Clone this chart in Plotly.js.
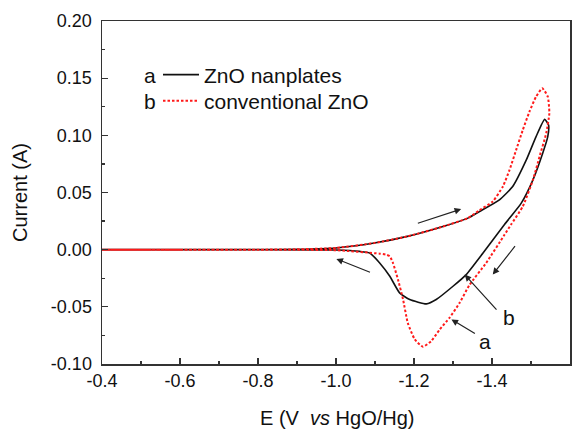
<!DOCTYPE html>
<html>
<head>
<meta charset="utf-8">
<script src="https://cdn.plot.ly/plotly-3.0.1.min.js"></script>
<style>
html,body{margin:0;padding:0;background:#fff;}
#chart{width:585px;height:432px;}
</style>
</head>
<body>
<div id="chart"></div>
<script>
// Sample a: ZnO nanplates (black solid)
const aE = [-0.40,-0.60,-0.80,-0.90,-1.00,-1.098,-1.183,-1.270,-1.338,-1.368,-1.419,-1.453,-1.488,-1.513,-1.535,-1.545,-1.543,
            -1.530,-1.505,-1.475,-1.432,-1.377,-1.334,-1.300,-1.257,-1.232,-1.189,-1.163,-1.138,-1.112,-1.086,-1.061,-1.00,-0.80,-0.40];
const aI = [0.000,0.000,0.000,0.0003,0.0015,0.0058,0.0116,0.0198,0.0276,0.0334,0.0436,0.0552,0.0785,0.0989,0.114,0.109,0.0989,
            0.0844,0.0611,0.0407,0.022,-0.003,-0.0218,-0.032,-0.0436,-0.0474,-0.0436,-0.0378,-0.0233,-0.0116,-0.0029,-0.0015,-0.0003,0.000,0.000];
// Sample b: conventional ZnO (red dotted)
const bE = [-0.40,-0.60,-0.80,-0.90,-1.00,-1.098,-1.183,-1.270,-1.338,-1.368,-1.402,-1.428,-1.445,-1.462,-1.479,-1.496,-1.513,-1.529,-1.543,-1.547,
            -1.539,-1.522,-1.505,-1.479,-1.449,-1.432,-1.385,-1.342,-1.317,-1.291,-1.266,-1.244,-1.223,-1.202,-1.184,-1.172,-1.159,-1.146,-1.138,-1.129,-1.112,-1.00,-0.80,-0.40];
const bI = [0.000,0.000,0.000,0.0003,0.0015,0.0058,0.0116,0.0198,0.0276,0.0345,0.0422,0.0553,0.0698,0.0873,0.1047,0.1207,0.1338,0.1411,0.1338,0.1193,
            0.1018,0.0815,0.0611,0.0378,0.022,0.013,-0.0116,-0.031,-0.0465,-0.0596,-0.0698,-0.080,-0.0849,-0.0785,-0.064,-0.0436,-0.0262,-0.0116,-0.0058,-0.0044,-0.0035,-0.0005,0.000,0.000];

const xTickVals = [-0.4,-0.6,-0.8,-1.0,-1.2,-1.4,-1.6];
const xTickText = ["-0.4","-0.6","-0.8","-1.0","-1.2","-1.4","-1.6"];
const yTickVals = [-0.10,-0.05,0.00,0.05,0.10,0.15,0.20];
const yTickText = ["-0.10","-0.05","0.00","0.05","0.10","0.15","0.20"];

const seriesNames = ["ZnO nanplates","conventional ZnO"];
const seriesLetters = ["a","b"];
const xTitle = 'E (V  <i>vs</i> HgO/Hg)';
const yTitle = 'Current (A)';

const FONT = "Liberation Sans, Arial, sans-serif";

const traces = [
  {x:aE, y:aI, name:seriesNames[0], mode:'lines', type:'scatter', legend:'legend',
   line:{color:'#111111', width:1.6, shape:'spline', smoothing:0.5}},
  {x:bE, y:bI, name:seriesNames[1], mode:'lines', type:'scatter', legend:'legend2',
   line:{color:'#ff1a1a', width:2, dash:'2.5px,2px', shape:'spline', smoothing:0.5}}
];

const arrowStyle = {showarrow:true, arrowhead:2, arrowsize:1.1, arrowwidth:1.2, arrowcolor:'#222',
  axref:'x', ayref:'y', text:'', xref:'x', yref:'y'};

const PW = 468, PH = 343;
const annotations = [
  Object.assign({}, arrowStyle, {x:-1.321, y:0.0355, ax:-1.206, ay:0.0227}),
  Object.assign({}, arrowStyle, {x:-1.001, y:-0.0081, ax:-1.091, ay:-0.0203}),
  Object.assign({}, arrowStyle, {x:-1.402, y:-0.0218, ax:-1.462, ay:0.0044}),
  Object.assign({}, arrowStyle, {x:-1.330, y:-0.0218, ax:-1.415, ay:-0.0538}),
  Object.assign({}, arrowStyle, {x:-1.296, y:-0.061, ax:-1.360, ay:-0.0742}),
  {x:-1.443, y:-0.0595, xref:'x', yref:'y', text:'b', showarrow:false, font:{family:FONT, size:21, color:'#111'}},
  {x:-1.383, y:-0.0800, xref:'x', yref:'y', text:'a', showarrow:false, font:{family:FONT, size:21, color:'#111'}},
  {x:(150-102)/PW, y:(364-75)/PH, xref:'paper', yref:'paper', xanchor:'center', yanchor:'middle',
   text:seriesLetters[0], showarrow:false, font:{family:FONT, size:21, color:'#111'}},
  {x:(150-102)/PW, y:(364-101)/PH, xref:'paper', yref:'paper', xanchor:'center', yanchor:'middle',
   text:seriesLetters[1], showarrow:false, font:{family:FONT, size:21, color:'#111'}},
  {x:(337-102)/PW, y:(364-431)/PH, xref:'paper', yref:'paper', xanchor:'center', yanchor:'bottom',
   text:xTitle, showarrow:false, font:{family:FONT, size:20, color:'#111'}}
];

const legendBase = {xanchor:'left', yanchor:'middle', bgcolor:'rgba(0,0,0,0)', borderwidth:0,
  font:{family:FONT, size:21, color:'#111'}, itemwidth:36};

const layout = {
  width:585, height:432,
  margin:{l:102, r:15, t:21, b:68},
  paper_bgcolor:'#fff', plot_bgcolor:'#fff',
  font:{family:FONT, color:'#111'},
  showlegend:true,
  legend:Object.assign({}, legendBase, {x:(158-102)/PW, y:(364-75)/PH}),
  legend2:Object.assign({}, legendBase, {x:(158-102)/PW, y:(364-101)/PH}),
  xaxis:{range:[-0.4,-1.6], tickmode:'array', tickvals:xTickVals, ticktext:xTickText,
         ticks:'inside', ticklen:6, tickwidth:1.3, tickcolor:'#333',
         minor:{dtick:0.1, tick0:-0.4, ticks:'inside', ticklen:3, tickwidth:1.3, tickcolor:'#333'},
         showgrid:false, zeroline:false, showline:true, mirror:true, linecolor:'#333', linewidth:1.5,
         tickfont:{family:FONT, size:18, color:'#111'}, ticklabelstandoff:0},
  yaxis:{range:[-0.10,0.20], tickmode:'array', tickvals:yTickVals, ticktext:yTickText,
         ticks:'inside', ticklen:6, tickwidth:1.3, tickcolor:'#333',
         minor:{dtick:0.025, tick0:0, ticks:'inside', ticklen:3, tickwidth:1.3, tickcolor:'#333'},
         showgrid:false, zeroline:false, showline:true, mirror:true, linecolor:'#333', linewidth:1.5,
         tickfont:{family:FONT, size:18, color:'#111'}, ticklabelstandoff:5,
         title:{text:yTitle, font:{family:FONT, size:20, color:'#111'}, standoff:18}},
  annotations:annotations
};

Plotly.newPlot('chart', traces, layout, {staticPlot:true, displayModeBar:false});
</script>
</body>
</html>
